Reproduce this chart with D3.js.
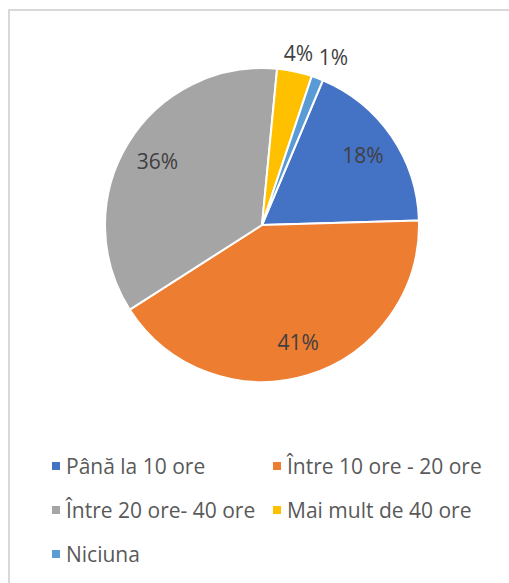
<!DOCTYPE html>
<html><head><meta charset="utf-8">
<script src="https://cdn.jsdelivr.net/npm/d3@7"></script>
<style>html,body{margin:0;padding:0;background:#fff;overflow:hidden}</style>
</head><body>
<svg id="c" width="509" height="583"></svg>
<script>
const categories = ["Până la 10 ore", "Între 10 ore - 20 ore", "Între 20 ore- 40 ore", "Mai mult de 40 ore", "Niciuna"];
const values = [18.2, 41.4, 35.6, 3.6, 1.2];
const colors = ["#4472C4", "#ED7D31", "#A5A5A5", "#FFC000", "#5B9BD5"];

const svg = d3.select("#c");
const font = "'Open Sans', 'Liberation Sans', sans-serif";
svg.append("rect").attr("x", 9).attr("y", 10).attr("width", 520).attr("height", 600)
  .attr("fill", "#fff").attr("stroke", "#d9d9d9").attr("stroke-width", 2);

const cx = 262, cy = 225, R = 157;
const data = categories.map((c, i) => ({cat: c, v: values[i], color: colors[i]}));
const start = 22.8 * Math.PI / 180;
const pie = d3.pie().value(d => d.v).sort(null).startAngle(start).endAngle(start + 2 * Math.PI);
const arcs = pie(data);
const arc = d3.arc().innerRadius(0).outerRadius(R);
const g = svg.append("g").attr("transform", `translate(${cx},${cy})`);
g.selectAll("path").data(arcs).join("path")
  .attr("d", arc).attr("fill", d => d.data.color)
  .attr("stroke", "#fff").attr("stroke-width", 2).attr("stroke-linejoin", "round");

const totalV = d3.sum(values);
const fs = 21;
const inLabel = d3.arc().innerRadius(R * 0.78).outerRadius(R * 0.78);
// compute label positions; small slices go outside with simple collision avoidance
const placed = [];
const labels = arcs.map(d => {
  const pct = d.data.v / totalV;
  const text = Math.round(pct * 100) + "%";
  const hw = text.length * 0.7 * fs / 2 * 0.97, hh = 0.36 * fs;
  if (pct >= 0.05) {
    const [x, y] = inLabel.centroid(d);
    return {x, y, text};
  }
  let a = (d.startAngle + d.endAngle) / 2;
  let r = R + 8 + hw * Math.abs(Math.sin(a)) + hh * Math.abs(Math.cos(a));
  let x, y, k = 0;
  while (true) {
    x = Math.sin(a) * r; y = -Math.cos(a) * r;
    const box = {x0: x - hw, x1: x + hw, y0: y - hh, y1: y + hh};
    const hit = placed.some(b => box.x0 < b.x1 + 6 && box.x1 > b.x0 - 6 && box.y0 < b.y1 && box.y1 > b.y0);
    if (!hit || k > 60) { placed.push(box); break; }
    r += 1; a += 0.5 * Math.PI / 180; k++;
  }
  return {x, y, text};
});
g.selectAll("text.lbl").data(labels).join("text")
  .attr("class", "lbl")
  .attr("x", d => d.x).attr("y", d => d.y)
  .attr("text-anchor", "middle").attr("dy", "0.36em")
  .attr("font-family", font).attr("font-size", fs).attr("fill", "#404040")
  .text(d => d.text);

// legend
const colX = [52, 273], rowY = [466, 510, 554];
const lg = svg.selectAll("g.leg").data(data).join("g").attr("class", "leg")
  .attr("transform", (d, i) => `translate(${colX[i % 2]},${rowY[Math.floor(i / 2)]})`);
lg.append("rect").attr("x", 0).attr("y", -4).attr("width", 8).attr("height", 8).attr("fill", d => d.color);
lg.append("text").attr("x", 14).attr("dy", "0.36em")
  .attr("font-family", font).attr("font-size", 21).attr("fill", "#595959")
  .text(d => d.cat);
</script>
</body></html>
